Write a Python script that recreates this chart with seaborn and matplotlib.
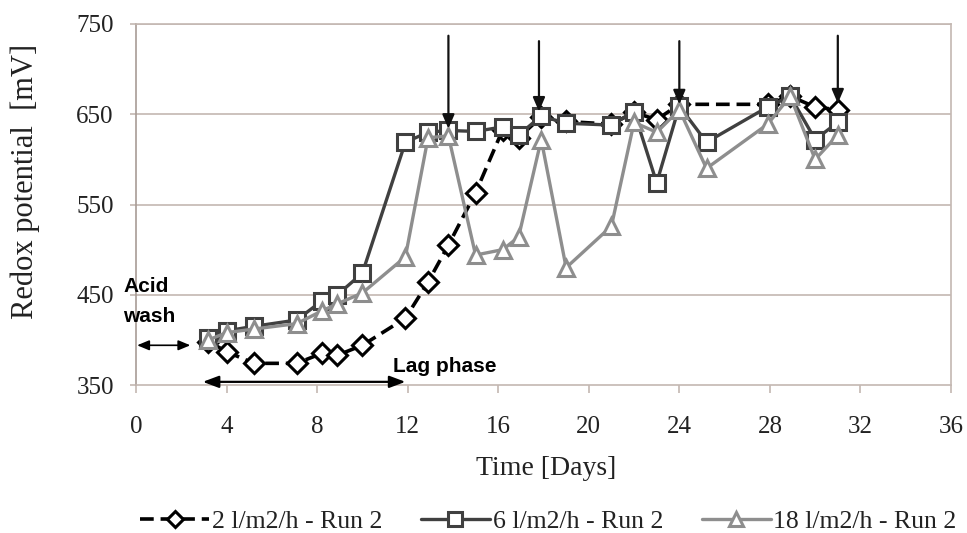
import matplotlib
matplotlib.use("Agg")
import matplotlib.pyplot as plt
import seaborn as sns
import pandas as pd

sns.set_theme(style="white")
plt.rcParams['font.family'] = ['Liberation Serif', 'DejaVu Serif']

# ---- data ----
days_2 = [3.2, 4.0, 5.2, 7.1, 8.2, 8.9, 10.0, 11.9, 12.9, 13.8, 15.0, 16.2, 16.9,
          17.9, 19.0, 21.0, 22.0, 23.0, 24.0, 27.9, 28.9, 30.0, 31.0]
redox_2 = [398, 387, 374, 374, 385, 383, 394, 424, 464, 505, 563, 633, 624,
           647, 642, 639, 652, 644, 661, 661, 670, 658, 655]

days_6 = [3.2, 4.0, 5.2, 7.1, 8.2, 8.9, 10.0, 11.9, 12.9, 13.8, 15.0, 16.2, 16.9,
          17.9, 19.0, 21.0, 22.0, 23.0, 24.0, 25.2, 27.9, 28.9, 30.0, 31.0]
redox_6 = [402, 410, 415, 422, 443, 450, 474, 619, 630, 632, 631, 636, 627,
           648, 640, 638, 653, 574, 659, 619, 658, 670, 622, 641]

days_18 = [3.2, 4.0, 5.2, 7.1, 8.2, 8.9, 10.0, 11.9, 12.9, 13.8, 15.0, 16.2, 16.9,
           17.9, 19.0, 21.0, 22.0, 23.0, 24.0, 25.2, 27.9, 28.9, 30.0, 31.0]
redox_18 = [400, 408, 412, 418, 432, 440, 452, 492, 624, 626, 494, 500, 514,
            622, 480, 526, 641, 630, 655, 590, 639, 670, 600, 627]

series_labels = ["2 l/m2/h - Run 2", "6 l/m2/h - Run 2", "18 l/m2/h - Run 2"]

arrow_days = [13.8, 17.8, 24.0, 31.0]
arrow_tops = [737, 731, 731, 737]
arrow_tips = [634, 653, 661, 662]

x_ticks = [0, 4, 8, 12, 16, 20, 24, 28, 32, 36]
y_ticks = [350, 450, 550, 650, 750]

# ---- figure ----
fig = plt.figure(figsize=(9.67, 5.33), dpi=100)
ax = fig.add_axes([136/967, 1-385/533, (951-136)/967, (385-24)/533])

grid_col = "#c4b8b2"
text_col = "#222222"

df2 = pd.DataFrame({"day": days_2, "mv": redox_2})
df6 = pd.DataFrame({"day": days_6, "mv": redox_6})
df18 = pd.DataFrame({"day": days_18, "mv": redox_18})

sns.lineplot(data=df2, x="day", y="mv", ax=ax, color="black", linestyle=(0, (3.8, 1.9)),
             linewidth=2.6, marker="D", markersize=10, markerfacecolor="white",
             markeredgecolor="black", markeredgewidth=2.2, label=series_labels[0],
             zorder=3, estimator=None)
sns.lineplot(data=df6, x="day", y="mv", ax=ax, color="#404040", linewidth=2.4,
             marker="s", markersize=12, markerfacecolor="white",
             markeredgecolor="#404040", markeredgewidth=2.2, label=series_labels[1],
             zorder=4, estimator=None)
sns.lineplot(data=df18, x="day", y="mv", ax=ax, color="#8e8e8e", linewidth=2.4,
             marker="^", markersize=12, markerfacecolor="white",
             markeredgecolor="#8e8e8e", markeredgewidth=2.2, label=series_labels[2],
             zorder=5, estimator=None)

ax.set_xlim(0, 36)
ax.set_ylim(350, 750)
ax.set_xticks(x_ticks)
ax.set_yticks(y_ticks)
ax.tick_params(axis="both", labelsize=18, labelcolor=text_col,
               color=grid_col, width=1.2, direction="out")
ax.tick_params(axis="x", length=5.5, pad=17)
ax.tick_params(axis="y", length=4, pad=12)
ax.xaxis.set_ticks_position("bottom")
ax.yaxis.set_ticks_position("left")

for y in [450, 550, 650, 750]:
    ax.axhline(y, color=grid_col, linewidth=1.2, zorder=0)
for side in ["top", "right", "bottom", "left"]:
    ax.spines[side].set_color(grid_col)
    ax.spines[side].set_linewidth(1.2)
ax.spines["left"].set_color("#a89c96")

ax.set_xlabel("Time [Days]", fontsize=20, color=text_col)
ax.xaxis.set_label_coords(0.503, -0.197)
ax.set_ylabel("Redox potential  [mV]", fontsize=22, color=text_col)
ax.yaxis.set_label_coords(-0.118, 0.565)

# vertical arrows
for d, top, tip in zip(arrow_days, arrow_tops, arrow_tips):
    ax.annotate("", xy=(d, tip), xytext=(d, top),
                arrowprops=dict(arrowstyle="-|>,head_length=0.7,head_width=0.3",
                                color="#111111", lw=1.6, shrinkA=0, shrinkB=0),
                zorder=6)

sans = ["Liberation Sans", "DejaVu Sans"]

# Acid wash
ax.annotate("", xy=(0.05, 394), xytext=(2.4, 394),
            arrowprops=dict(arrowstyle="<|-|>,head_length=0.6,head_width=0.25",
                            color="black", lw=1.2, shrinkA=0, shrinkB=0),
            annotation_clip=False)
ax.text(-0.57, 453, "Acid", fontsize=15, fontweight="bold", family=sans,
        ha="left", va="baseline", clip_on=False, color="black")
ax.text(-0.57, 420, "wash", fontsize=15, fontweight="bold", family=sans,
        ha="left", va="baseline", clip_on=False, color="black")

# Lag phase
ax.annotate("", xy=(2.95, 353.5), xytext=(11.9, 353.5),
            arrowprops=dict(arrowstyle="<|-|>,head_length=0.8,head_width=0.3",
                            color="black", lw=1.6, shrinkA=0, shrinkB=0),
            annotation_clip=False)
ax.text(11.35, 364, "Lag phase", fontsize=15, fontweight="bold", family=sans,
        ha="left", va="baseline", color="black")

handles, labels = ax.get_legend_handles_labels()
ax.get_legend().remove()
fig.legend(handles, labels, loc="center", bbox_to_anchor=(0.567, 0.021), ncol=3,
           frameon=False, fontsize=18.5, handlelength=2.7, columnspacing=1.5,
           handletextpad=0.1, labelcolor=text_col, markerscale=0.8)

fig.savefig("out.png", dpi=100)
